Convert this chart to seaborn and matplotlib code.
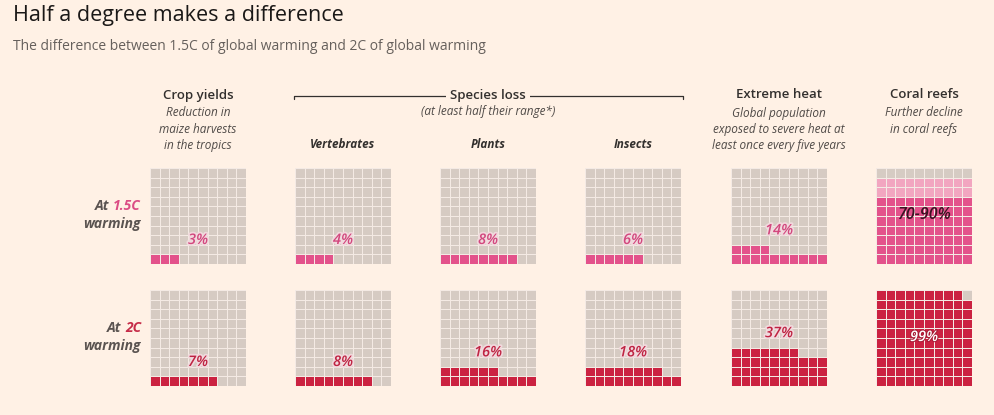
import math
import numpy as np
import seaborn as sns
import matplotlib.pyplot as plt
import matplotlib.patheffects as pe
from matplotlib.colors import ListedColormap

# data
categories = ["Crop yields", "Vertebrates", "Plants", "Insects", "Extreme heat", "Coral reefs"]
pct_15 = [3, 4, 8, 6, 14, 70]
pct_15_upper = [3, 4, 8, 6, 14, 90]
pct_2 = [7, 8, 16, 18, 37, 99]
labels_15 = ["3%", "4%", "8%", "6%", "14%", "70-90%"]
labels_2 = ["7%", "8%", "16%", "18%", "37%", "99%"]

W, H = 995, 415
BG = "#FFF1E5"
GREY = "#D6CBC3"
GRID = "#F4EAE4"
PINK = "#E3528B"
PINK_LIGHT = "#F2A6C0"
RED = "#CB2241"
DARK = "#33302E"
MID = "#5A5350"

sns.set_style("white")
plt.rcParams["font.family"] = ["Open Sans", "DejaVu Sans"]

fig = plt.figure(figsize=(W / 100, H / 100), dpi=100, facecolor=BG)


def fx(x):
    return x / W


def fy(y):
    return 1 - y / H


def waffle(value, upper):
    # fill from the bottom row, left to right
    mat = np.zeros((10, 10))
    for k in range(upper):
        mat[9 - k // 10, k % 10] = 1
    for k in range(value):
        mat[9 - k // 10, k % 10] = 2
    return mat


col_x = [150, 295, 440, 585, 731, 876]
row_y = [168, 290]
size = 96

rows = [
    (pct_15, pct_15_upper, labels_15, PINK, "#D2477E"),
    (pct_2, pct_2, labels_2, RED, "#BF2443"),
]

for r, (vals, uppers, labs, colour, tcolour) in enumerate(rows):
    for c in range(len(categories)):
        ax = fig.add_axes([fx(col_x[c]), fy(row_y[r] + size), size / W, size / H])
        mat = waffle(vals[c], uppers[c])
        sns.heatmap(mat, ax=ax, cmap=ListedColormap([GREY, PINK_LIGHT, colour]),
                    vmin=-0.5, vmax=2.5, cbar=False, linewidths=0.6, linecolor=GRID,
                    xticklabels=False, yticklabels=False)
        ax.set_axis_off()
        if categories[c] == "Coral reefs":
            ty = 4.9
            tcol = "#3A1322" if r == 0 else "white"
            fs = 11.5 if r == 0 else 10.5
            effects = [] if r == 0 else [pe.withStroke(linewidth=1.5, foreground="#A81A35")]
        else:
            ty = 10 - (math.ceil(vals[c] / 10) + 1.5)
            tcol = tcolour
            fs = 10.5
            effects = [pe.withStroke(linewidth=2.5, foreground="#F1D9DD")]
        ax.text(5, ty, labs[c], ha="center", va="center", color=tcol,
                fontsize=fs, fontweight="semibold", fontstyle="italic",
                path_effects=effects, zorder=5)

# title and subtitle
fig.text(fx(13), fy(16), "Half a degree makes a difference", fontsize=15.5,
         color="#1A1817", va="center", ha="left")
fig.text(fx(13), fy(46), "The difference between 1.5C of global warming and 2C of global warming",
         fontsize=10, color="#66605C", va="center", ha="left")

# column headers
centers = [x + size / 2 for x in col_x]
head_kw = dict(ha="center", va="center", fontsize=9.5, color=DARK, fontweight="semibold")
sub_kw = dict(ha="center", va="center", fontsize=8.5, color="#4F4A47", fontstyle="italic")

fig.text(fx(centers[0]), fy(95), "Crop yields", **head_kw)
for i, line in enumerate(["Reduction in", "maize harvests", "in the tropics"]):
    fig.text(fx(centers[0]), fy(113 + 16 * i), line, **sub_kw)

fig.text(fx(centers[4]), fy(95), "Extreme heat", **head_kw)
for i, line in enumerate(["Global population", "exposed to severe heat at",
                          "least once every five years"]):
    fig.text(fx(centers[4]), fy(113 + 16 * i), line, **sub_kw)

fig.text(fx(centers[5]), fy(95), "Coral reefs", **head_kw)
for i, line in enumerate(["Further decline", "in coral reefs"]):
    fig.text(fx(centers[5]), fy(113 + 16 * i), line, **sub_kw)

for c in [1, 2, 3]:
    fig.text(fx(centers[c]), fy(145), categories[c], ha="center", va="center",
             fontsize=8.5, color=DARK, fontweight="bold", fontstyle="italic")

# species loss bracket
line_ax = fig.add_axes([0, 0, 1, 1], facecolor="none")
line_ax.set_xlim(0, W)
line_ax.set_ylim(H, 0)
line_ax.set_axis_off()
line_ax.plot([294, 294, 683, 683], [99, 96, 96, 99], color=DARK, lw=0.9)
line_ax.text(488, 95, "Species loss", ha="center", va="center", fontsize=9.5,
             color=DARK, fontweight="semibold",
             bbox=dict(facecolor=BG, edgecolor="none", pad=3))
line_ax.text(488, 111, "(at least half their range*)", ha="center", va="center",
             fontsize=8.5, color="#4F4A47", fontstyle="italic")

# row labels with coloured temperature
fig.canvas.draw()
renderer = fig.canvas.get_renderer()
row_kw = dict(fontsize=10, fontweight="bold", fontstyle="italic", va="center")
for (temp, colour, y) in [("1.5C", "#DB4C85", 206), ("2C", "#C62C48", 328)]:
    t = line_ax.text(141, y, temp, ha="right", color=colour, **row_kw)
    bb = t.get_window_extent(renderer)
    fig.text((bb.x0 - 4) / W, fy(y), "At", ha="right", color=MID, **row_kw)
    line_ax.text(141, y + 18, "warming", ha="right", color=MID, **row_kw)

fig.savefig("out.png", dpi=100, facecolor=BG)
